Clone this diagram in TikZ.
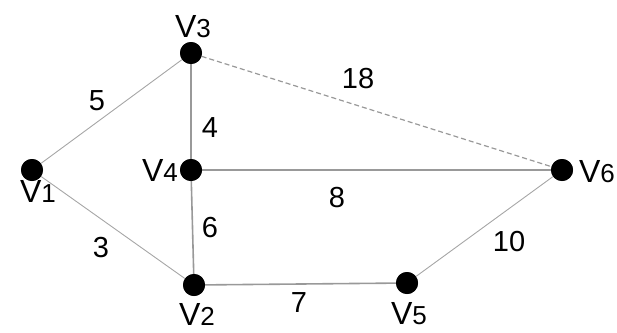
\documentclass[tikz,border=0pt]{standalone}
\usepackage{fontspec}
\setmainfont{Liberation Sans}
\newcommand\vlab[1]{{\fontsize{32}{32}\selectfont V}{\fontsize{26}{26}\selectfont #1}}
\begin{document}
\begin{tikzpicture}[x=1pt,y=-1pt,
  vert/.style={circle,fill=black,inner sep=0pt,minimum size=22pt},
  thin edge/.style={draw=black!35,line width=0.9pt},
  thick edge/.style={draw=black!40,line width=1.6pt},
  dash edge/.style={draw=black!40,line width=1.2pt,dash pattern=on 5pt off 3pt},
  vtext/.style={inner sep=0pt},
  wtext/.style={inner sep=0pt,font=\fontsize{29}{29}\selectfont}]
\useasboundingbox (0,0) rectangle (617,332);
\node[vert] (v1) at (32,170) {};
\node[vert] (v3) at (191,53) {};
\node[vert] (v4) at (191,170) {};
\node[vert] (v2) at (194,285) {};
\node[vert] (v5) at (407,283) {};
\node[vert] (v6) at (562,170) {};
\path[thin edge] (v1) -- (v3);
\path[thin edge] (v1) -- (v2);
\path[thin edge] (v5) -- (v6);
\path[thick edge] (v3) -- (v4);
\path[thick edge] (v4) -- (v2);
\path[thick edge] (v4) -- (v6);
\path[thick edge] (v2) -- (v5);
\path[dash edge] (v3) -- (v6);
\node[vert] at (v1) {};
\node[vert] at (v3) {};
\node[vert] at (v4) {};
\node[vert] at (v2) {};
\node[vert] at (v5) {};
\node[vert] at (v6) {};
\node[vtext] (l3) at (193,27) {\vlab{3}};
\node[vtext] (l4) at (160,170) {\vlab{4}};
\node[vtext] (l1) at (38,191) {\vlab{1}};
\node[vtext] (l2) at (197,314) {\vlab{2}};
\node[vtext] (l5) at (409,314) {\vlab{5}};
\node[vtext] (l6) at (597,172) {\vlab{6}};
\node[wtext] (w5) at (97,101) {5};
\node[wtext] (w18) at (358,79) {18};
\node[wtext] (w4) at (210,128) {4};
\node[wtext] (w8) at (337,198) {8};
\node[wtext] (w6) at (210,228) {6};
\node[wtext] (w3) at (101,248) {3};
\node[wtext] (w7) at (299,303) {7};
\node[wtext] (w10) at (509,242) {10};
\end{tikzpicture}
\end{document}
